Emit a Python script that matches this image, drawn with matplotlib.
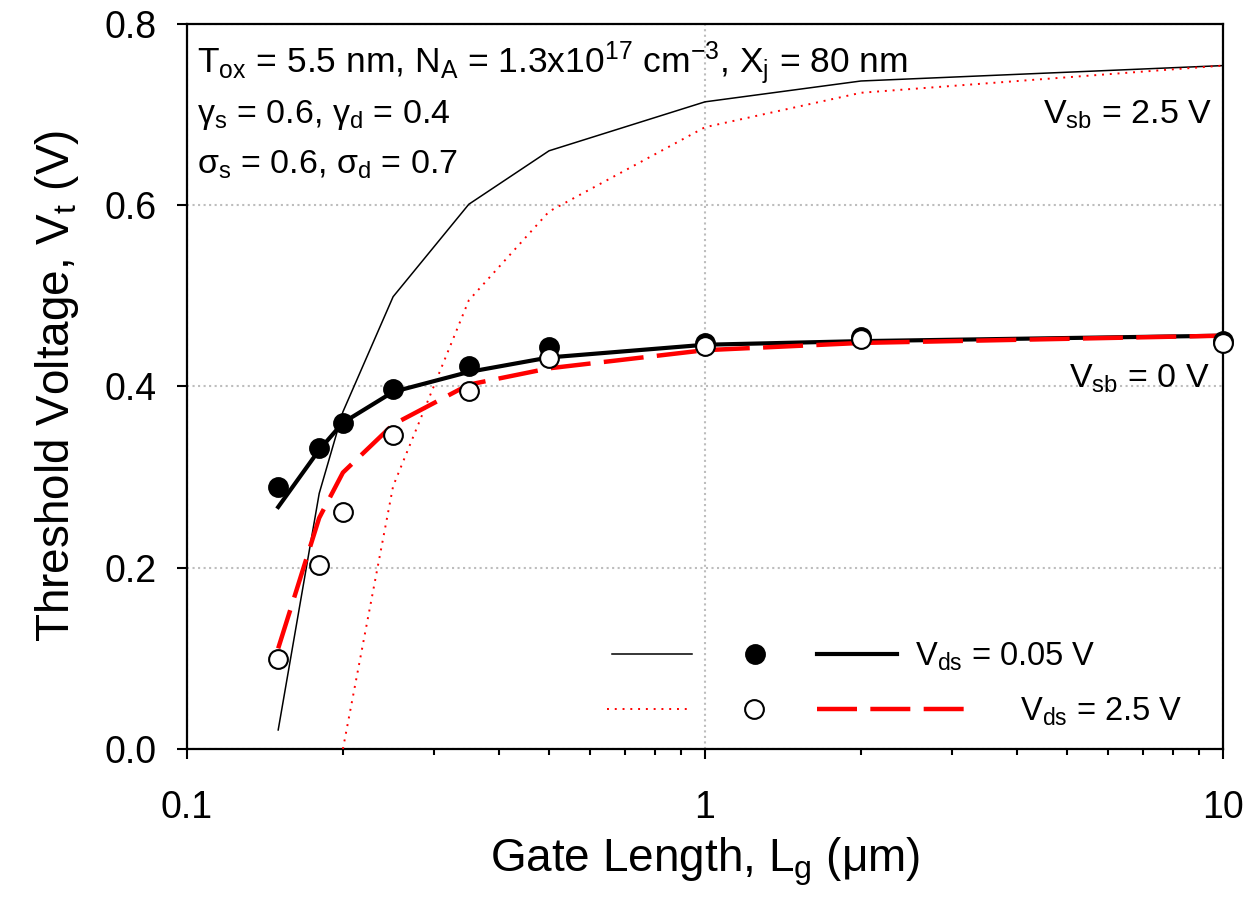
import matplotlib
matplotlib.use('Agg')
import matplotlib.pyplot as plt
from matplotlib.lines import Line2D
from matplotlib.legend_handler import HandlerBase
from matplotlib.ticker import FixedLocator, LogLocator, FuncFormatter, NullFormatter

plt.rcParams['font.family'] = ['Liberation Sans', 'DejaVu Sans']
plt.rcParams['mathtext.fontset'] = 'custom'
plt.rcParams['mathtext.rm'] = 'Liberation Sans'
plt.rcParams['mathtext.it'] = 'Liberation Sans'
plt.rcParams['mathtext.default'] = 'regular'

# gate lengths (um)
lg = [0.15, 0.18, 0.2, 0.25, 0.35, 0.5, 1, 2, 10]
lg_hi = [0.2, 0.25, 0.35, 0.5, 1, 2, 10]

# measured Vt (symbols)
meas_vds005 = [0.289, 0.332, 0.360, 0.397, 0.423, 0.444, 0.448, 0.454, 0.450]
meas_vds25 = [0.099, 0.203, 0.262, 0.346, 0.395, 0.431, 0.445, 0.452, 0.448]

# model, Vsb = 0 V
mod_vsb0_vds005 = [0.267, 0.330, 0.360, 0.394, 0.416, 0.432, 0.446, 0.450, 0.456]
mod_vsb0_vds25 = [0.111, 0.255, 0.305, 0.358, 0.402, 0.420, 0.440, 0.448, 0.456]

# model, Vsb = 2.5 V
mod_vsb25_vds005 = [0.021, 0.282, 0.372, 0.499, 0.601, 0.660, 0.714, 0.737, 0.754]
mod_vsb25_vds25 = [0.0, 0.29, 0.495, 0.593, 0.686, 0.724, 0.754]

x_ticks = [0.1, 1, 10]
y_ticks = [0.0, 0.2, 0.4, 0.6, 0.8]


class RowHandler(HandlerBase):
    '''draws the pieces of a tuple handle side by side at given fractions'''
    def __init__(self, spans):
        super().__init__()
        self.spans = spans

    def create_artists(self, legend, orig_handle, xdescent, ydescent,
                       width, height, fontsize, trans):
        y = height / 2 - ydescent
        out = []
        for h, (a, b) in zip(orig_handle, self.spans):
            x0 = -xdescent + a * width
            x1 = -xdescent + b * width
            if a == b:
                art = Line2D([x0], [y])
            else:
                art = Line2D([x0, x1], [y, y])
            art.update_from(h)
            art.set_transform(trans)
            out.append(art)
        return out


fig = plt.figure(figsize=(12.49, 9.19), dpi=100)
ax = fig.add_axes([0.1497, 0.185, 0.8295, 0.789])

ax.plot(lg, mod_vsb25_vds005, color='black', lw=1.1, zorder=3)
ax.plot(lg_hi, mod_vsb25_vds25, color='red', lw=1.4, dashes=(1, 3), zorder=3)
ax.plot(lg, mod_vsb0_vds005, color='black', lw=3.0, zorder=4)
ax.plot(lg, mod_vsb0_vds25, color='red', lw=3.2, dashes=(9, 3), zorder=4)
ax.plot(lg, meas_vds005, ls='none', marker='o', ms=13.5, mfc='black', mec='black',
        mew=1.5, zorder=5, clip_on=False)
ax.plot(lg, meas_vds25, ls='none', marker='o', ms=13.5, mfc='white', mec='black',
        mew=1.5, zorder=6, clip_on=False)

ax.set_xscale('log')
ax.set_xlim(0.1, 10)
ax.set_ylim(0, 0.8)
ax.xaxis.set_major_locator(FixedLocator(x_ticks))
ax.xaxis.set_major_formatter(FuncFormatter(lambda v, p: '%g' % v))
ax.xaxis.set_minor_locator(LogLocator(base=10, subs=range(2, 10)))
ax.xaxis.set_minor_formatter(NullFormatter())
ax.yaxis.set_major_locator(FixedLocator(y_ticks))
ax.yaxis.set_major_formatter(FuncFormatter(lambda v, p: '%.1f' % v))

ax.grid(True, which='major', color='#bdbdbd', ls=':', lw=1.5)
ax.set_axisbelow(True)
for s in ax.spines.values():
    s.set_linewidth(1.6)
ax.tick_params(which='major', direction='out', length=7.5, width=1.5, labelsize=27)
ax.tick_params(axis='x', which='major', pad=22)
ax.tick_params(axis='y', which='major', pad=14)
ax.tick_params(which='minor', direction='out', length=4.5, width=1.5)

ax.set_xlabel('Gate Length, L$_{g}$ (μm)', fontsize=33)
ax.set_ylabel('Threshold Voltage, V$_{t}$ (V)', fontsize=33)
ax.xaxis.set_label_coords(0.5, -0.12)
ax.yaxis.set_label_coords(-0.102, 0.5)

ax.text(0.0097, 0.932, 'T$_{ox}$ = 5.5 nm, N$_{A}$ = 1.3x10$^{17}$ cm$^{−3}$, X$_{j}$ = 80 nm',
        transform=ax.transAxes, fontsize=25.5, va='baseline', ha='left')
ax.text(0.0097, 0.863, 'γ$_{s}$ = 0.6, γ$_{d}$ = 0.4',
        transform=ax.transAxes, fontsize=24.5, va='baseline', ha='left')
ax.text(0.0097, 0.794, 'σ$_{s}$ = 0.6, σ$_{d}$ = 0.7',
        transform=ax.transAxes, fontsize=24.5, va='baseline', ha='left')
ax.text(0.989, 0.863, 'V$_{sb}$ = 2.5 V', transform=ax.transAxes,
        fontsize=24.5, va='baseline', ha='right')
ax.text(0.987, 0.498, 'V$_{sb}$ = 0 V', transform=ax.transAxes,
        fontsize=24.5, va='baseline', ha='right')

# legend: thin model line / symbol / thick model line per Vds
thin = Line2D([], [], color='black', lw=1.1)
dot = Line2D([], [], color='red', lw=1.4, dashes=(1, 3))
full = Line2D([], [], ls='none', marker='o', ms=13.5, mfc='black', mec='black', mew=1.5)
hollow = Line2D([], [], ls='none', marker='o', ms=13.5, mfc='white', mec='black', mew=1.5)
thick = Line2D([], [], color='black', lw=3.0)
dash = Line2D([], [], color='red', lw=3.2, dashes=(9, 3))

fs_leg = 23.5
px = fs_leg * 100 / 72
leg1 = ax.legend([(thin, full, thick)], ['V$_{ds}$ = 0.05 V'],
                 handler_map={tuple: RowHandler([(0, 0.281), (0.502, 0.502), (0.719, 1.0)])},
                 loc='center left', bbox_to_anchor=(0.41, 0.127), frameon=False,
                 fontsize=fs_leg, handlelength=285 / px, handletextpad=18 / px,
                 borderpad=0, borderaxespad=0)
ax.add_artist(leg1)
ax.legend([(dot, hollow, dash)], ['V$_{ds}$ = 2.5 V'],
          handler_map={tuple: RowHandler([(0, 0.231), (0.412, 0.412), (0.585, 1.0)])},
          loc='center left', bbox_to_anchor=(0.405, 0.051), frameon=False,
          fontsize=fs_leg, handlelength=359 / px, handletextpad=54 / px,
          borderpad=0, borderaxespad=0)

fig.savefig('out.png', dpi=100)
